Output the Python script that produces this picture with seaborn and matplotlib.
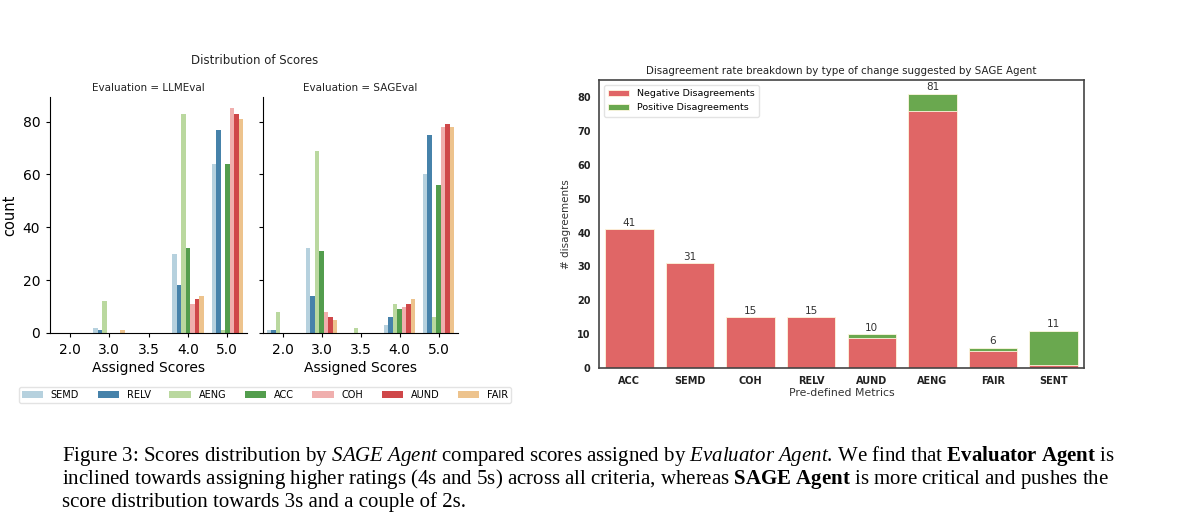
import matplotlib
matplotlib.use('Agg')
import matplotlib.pyplot as plt
import seaborn as sns
import pandas as pd

# scores distribution (rows = metrics, columns = assigned scores)
scores = ['2.0', '3.0', '3.5', '4.0', '5.0']
metrics = ['SEMD', 'RELV', 'AENG', 'ACC', 'COH', 'AUND', 'FAIR']
llmeval_counts = [
    [0, 2, 0, 30, 64],
    [0, 1, 0, 18, 77],
    [0, 12, 0, 83, 1],
    [0, 0, 0, 32, 64],
    [0, 0, 0, 11, 85],
    [0, 0, 0, 13, 83],
    [0, 1, 0, 14, 81],
]
sageval_counts = [
    [1, 32, 0, 3, 60],
    [1, 14, 0, 6, 75],
    [8, 69, 2, 11, 6],
    [0, 31, 0, 9, 56],
    [0, 8, 0, 10, 78],
    [0, 6, 0, 11, 79],
    [0, 5, 0, 13, 78],
]

# disagreement breakdown
dis_metrics = ['ACC', 'SEMD', 'COH', 'RELV', 'AUND', 'AENG', 'FAIR', 'SENT']
negative = [41, 31, 15, 15, 9, 76, 5, 1]
positive = [0, 0, 0, 0, 1, 5, 1, 10]

plt.rcParams['font.family'] = 'DejaVu Sans'
plt.rcParams['mathtext.fontset'] = 'custom'
plt.rcParams['mathtext.rm'] = 'Liberation Serif'
plt.rcParams['mathtext.it'] = 'Liberation Serif:italic'
plt.rcParams['mathtext.bf'] = 'Liberation Serif:bold'

W, H = 1200, 518
fig = plt.figure(figsize=(12, 5.18), dpi=100)


def box(x0, y0, x1, y1):
    return [x0 / W, 1 - y1 / H, (x1 - x0) / W, (y1 - y0) / H]


def to_long(counts, name):
    rows = []
    for m, vals in zip(metrics, counts):
        for s, v in zip(scores, vals):
            rows.append({'score': s, 'metric': m, 'count': v, 'Evaluation': name})
    return pd.DataFrame(rows)


ax1 = fig.add_axes(box(50, 97, 247, 333))
ax2 = fig.add_axes(box(263, 97, 458, 333), sharey=ax1)

for ax, counts, name in [(ax1, llmeval_counts, 'LLMEval'), (ax2, sageval_counts, 'SAGEval')]:
    df = to_long(counts, name)
    sns.barplot(data=df, x='score', y='count', hue='metric', order=scores,
                hue_order=metrics, palette='Paired', alpha=0.9, ax=ax)
    ax.set_title(f'Evaluation = {name}', fontsize=7.5, pad=4, color='#222222')
    ax.set_xlabel('Assigned Scores', fontsize=10, labelpad=3)
    ax.tick_params(labelsize=10, length=3, width=0.8, pad=4)
    sns.despine(ax=ax)

handles, labels = ax1.get_legend_handles_labels()
ax1.get_legend().remove()
ax2.get_legend().remove()
ax1.set_ylabel('count', fontsize=10.5, labelpad=4)
ax2.set_ylabel('')
ax2.tick_params(labelleft=False)
ax1.set_ylim(0, 89.3)

fig.text(255 / W, 1 - 60 / H, 'Distribution of Scores', ha='center', va='center',
         fontsize=8.5, color='#222222')
fig.legend(handles, labels, loc='center', bbox_to_anchor=(265 / W, 1 - 395 / H),
           ncol=7, fontsize=7, frameon=True, handlelength=2.2, handleheight=0.7,
           handletextpad=0.8, columnspacing=1.9, borderpad=0.3, fancybox=True,
           edgecolor='#dddddd')

# right panel: stacked bars (total in green, negative part on top in red)
ax3 = fig.add_axes(box(599, 80, 1084, 368))
totals = [n + p for n, p in zip(negative, positive)]
df_r = pd.DataFrame({'metric': dis_metrics, 'total': totals, 'negative': negative})
sns.barplot(data=df_r, x='metric', y='total', color='#6aa84f', saturation=1,
            edgecolor='#fff8e0', linewidth=0.6, ax=ax3)
sns.barplot(data=df_r, x='metric', y='negative', color='#e06666', saturation=1,
            edgecolor='#fff8e0', linewidth=0.6, ax=ax3)
ax3.bar_label(ax3.containers[0], labels=[str(t) for t in totals], fontsize=7.5,
              padding=1, color='#333333')
ax3.legend([ax3.containers[1], ax3.containers[0]],
           ['Negative Disagreements', 'Positive Disagreements'],
           loc='upper left', fontsize=6.8, frameon=True, edgecolor='#dddddd',
           handlelength=2.2, handleheight=0.6, borderpad=0.5)
ax3.set_ylim(0, 85.05)
ax3.set_yticks(range(0, 81, 10))
ax3.tick_params(length=0, labelsize=7, pad=6)
for lab in ax3.get_xticklabels() + ax3.get_yticklabels():
    lab.set_fontweight('bold')
    lab.set_color('#222222')
ax3.set_xlabel('Pre-defined Metrics', fontsize=7.8, labelpad=1, color='#333333')
ax3.set_ylabel('# disagreements', fontsize=7.5, labelpad=4, color='#333333')
ax3.set_title('Disagreement rate breakdown by type of change suggested by SAGE Agent',
              fontsize=7.4, pad=4, color='#222222')
for sp in ax3.spines.values():
    sp.set_color('#444444')
    sp.set_linewidth(1.2)

# caption
cap = [
    r'Figure 3: Scores distribution by $\mathit{SAGE\ Agent}$ compared scores assigned by '
    r'$\mathit{Evaluator\ Agent}$. We find that $\mathbf{Evaluator\ Agent}$ is',
    r'inclined towards assigning higher ratings (4s and 5s) across all criteria, whereas '
    r'$\mathbf{SAGE\ Agent}$ is more critical and pushes the',
    r'score distribution towards 3s and a couple of 2s.',
]
for line, yb in zip(cap, [461, 484, 507]):
    fig.text(62 / W, 1 - yb / H, line, ha='left', va='baseline', fontsize=15,
             family='Liberation Serif', color='black')

fig.savefig('out.png', dpi=100)
